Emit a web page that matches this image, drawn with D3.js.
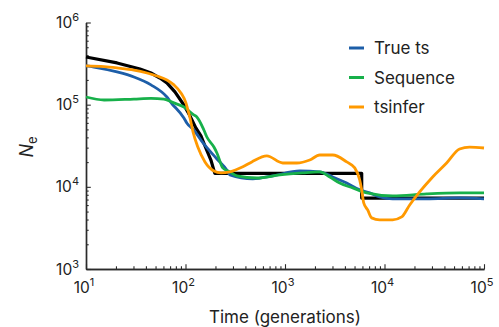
<!DOCTYPE html>
<html>
<head>
<meta charset="utf-8">
<script src="https://cdn.jsdelivr.net/npm/d3@7"></script>
<style>
  body { margin: 0; background: #fff; }
  svg { display: block; font-family: Inter, "Noto Sans", sans-serif; }
</style>
</head>
<body>
<div id="chart"></div>
<script>
// model (black) curve
const modelT = [10, 20.5, 34.9, 45, 55.3, 65, 78.3, 96.4, 111, 127, 143, 160, 180, 197, 5900, 5900, 100000];
const modelN = [380000, 322000, 272000, 243000, 211000, 184000, 143000, 99000, 72900, 52100, 41600, 29700, 21200, 14600, 14600, 7300, 7300];

// True ts
const trueT = [10, 12, 20.5, 30.3, 45, 65, 74.7, 80, 96.4, 103, 121, 150, 207, 260, 279, 475, 755, 1408, 2235, 3020, 4170, 5636, 7097, 8950, 12080, 26540, 56850, 100000];
const trueN = [296000, 287000, 250000, 217000, 174000, 124000, 99000, 91200, 68900, 59900, 49200, 34200, 21800, 16000, 14000, 12500, 13600, 15600, 15200, 13200, 11100, 9170, 8430, 7540, 7130, 7130, 7330, 7130];

// Sequence
const seqT = [10, 15.2, 30.3, 45, 60.7, 76.5, 96.4, 121, 130, 153, 164, 193, 207, 237, 279, 328, 521, 887, 1510, 2235, 2818, 3548, 4797, 6622, 12080, 26540, 56850, 100000];
const seqN = [124000, 114000, 117000, 119000, 117000, 105000, 93700, 75000, 70800, 49200, 40400, 30500, 25800, 17000, 15200, 13600, 12800, 14000, 14800, 15200, 13200, 11100, 9700, 8430, 7750, 8200, 8430, 8430];

// tsinfer
const tsiT = [10, 15.2, 20.5, 30.3, 41, 51.6, 65, 76.5, 90, 101, 105.7, 111, 119, 133, 157, 193, 227, 279, 377, 464, 656, 950, 1313, 1774, 2235, 3020, 4170, 5023, 5636, 5902, 6180, 6776, 7430, 8950, 12080, 14890, 17910, 22540, 30480, 42090, 56850, 71600, 100000];
const tsiN = [296000, 290000, 280000, 264000, 243000, 223000, 200000, 174000, 139000, 105000, 86200, 68900, 46600, 30500, 20100, 15600, 14800, 15200, 17500, 20100, 23800, 19500, 19500, 21200, 24400, 24400, 20100, 17000, 12100, 9170, 6370, 5230, 4190, 3960, 3960, 4300, 6020, 8660, 13200, 19500, 28900, 30500, 29700];

const xMajor = [10, 100, 1000, 10000, 100000];
const yMajor = [1000, 10000, 100000, 1000000];
const seriesNames = ["True ts", "Sequence", "tsinfer"];

const width = 499, height = 327;
const colors = { model: "#000000", "True ts": "#1d5ea8", "Sequence": "#17b04a", "tsinfer": "#ff9900" };

const svg = d3.select("#chart").append("svg")
  .attr("width", width)
  .attr("height", height);

const x = d3.scaleLog().domain([10, 100000]).range([86, 484]);
const y = d3.scaleLog().domain([1000, 1000000]).range([269, 22.5]);

const minors = (majors) => {
  const out = [];
  majors.slice(0, -1).forEach(m => { for (let k = 2; k <= 9; k++) out.push(m * k); });
  return out;
};

// axes, ticks pointing into the plot
const axisColor = "#2b2b2b";
const gx = svg.append("g").attr("transform", "translate(0,269)");
gx.call(d3.axisBottom(x).tickValues(minors(xMajor)).tickSize(-2.7).tickSizeOuter(0).tickFormat(""));
gx.append("g").call(d3.axisBottom(x).tickValues(xMajor).tickSize(-4.8).tickSizeOuter(0).tickFormat(""));
const gy = svg.append("g").attr("transform", "translate(86,0)");
gy.call(d3.axisLeft(y).tickValues(minors(yMajor)).tickSize(-2.7).tickSizeOuter(0).tickFormat(""));
gy.append("g").call(d3.axisLeft(y).tickValues(yMajor).tickSize(-4.8).tickSizeOuter(0).tickFormat(""));
svg.selectAll(".domain").attr("stroke", axisColor).attr("stroke-width", 1.4);
svg.selectAll(".tick line").attr("stroke", axisColor).attr("stroke-width", 1.1);

const pow = (v) => Math.round(Math.log10(v));

// tick labels with superscripts
svg.append("g").selectAll("text").data(xMajor).join("text")
  .attr("x", d => x(d) - 2)
  .attr("y", 293)
  .attr("text-anchor", "middle")
  .attr("font-size", 15.5)
  .attr("fill", "#222")
  .each(function(d) {
    const t = d3.select(this);
    t.append("tspan").text("10");
    t.append("tspan").attr("dy", -7).attr("font-size", 11).text(pow(d));
  });

svg.append("g").selectAll("text").data(yMajor).join("text")
  .attr("x", 79)
  .attr("y", d => y(d) + 5.5)
  .attr("text-anchor", "end")
  .attr("font-size", 15.5)
  .attr("fill", "#222")
  .each(function(d) {
    const t = d3.select(this);
    t.append("tspan").text("10");
    t.append("tspan").attr("dy", -7).attr("font-size", 11).text(pow(d));
  });

// axis titles
svg.append("text")
  .attr("x", 285).attr("y", 323)
  .attr("text-anchor", "middle")
  .attr("font-size", 17)
  .attr("fill", "#222")
  .text("Time (generations)");

const yl = svg.append("text")
  .attr("transform", "translate(33,147) rotate(-90)")
  .attr("text-anchor", "middle")
  .attr("font-size", 18)
  .attr("fill", "#222");
yl.append("tspan").attr("font-style", "italic").text("N");
yl.append("tspan").attr("dy", 4).attr("font-size", 13).text("e");

// lines
const mk = (ts, ns) => ts.map((t, i) => ({ t: t, n: ns[i] }));
const lineSmooth = d3.line().x(d => x(d.t)).y(d => y(d.n)).curve(d3.curveMonotoneX);

const plot = svg.append("g");
plot.append("path").datum(mk(modelT, modelN))
  .attr("d", d3.line().x(d => x(d.t)).y(d => y(d.n)).curve(d3.curveLinear))
  .attr("fill", "none").attr("stroke", colors.model).attr("stroke-width", 3.2)
  .attr("stroke-linejoin", "round");

const series = [
  { name: "True ts", data: mk(trueT, trueN) },
  { name: "Sequence", data: mk(seqT, seqN) },
  { name: "tsinfer", data: mk(tsiT, tsiN) }
];
series.forEach(s => {
  plot.append("path").datum(s.data)
    .attr("d", lineSmooth)
    .attr("fill", "none")
    .attr("stroke", colors[s.name])
    .attr("stroke-width", 2.8)
    .attr("stroke-linejoin", "round");
});

// legend
const legend = svg.append("g").attr("transform", "translate(349,48)");
seriesNames.forEach((name, i) => {
  const g = legend.append("g").attr("transform", "translate(0," + (i * 29.5) + ")");
  g.append("line").attr("x1", 0).attr("x2", 15).attr("y1", 0).attr("y2", 0)
    .attr("stroke", colors[name]).attr("stroke-width", 3);
  g.append("text").attr("x", 25).attr("y", 6)
    .attr("font-size", 17).attr("fill", "#222").text(name);
});
</script>
</body>
</html>
